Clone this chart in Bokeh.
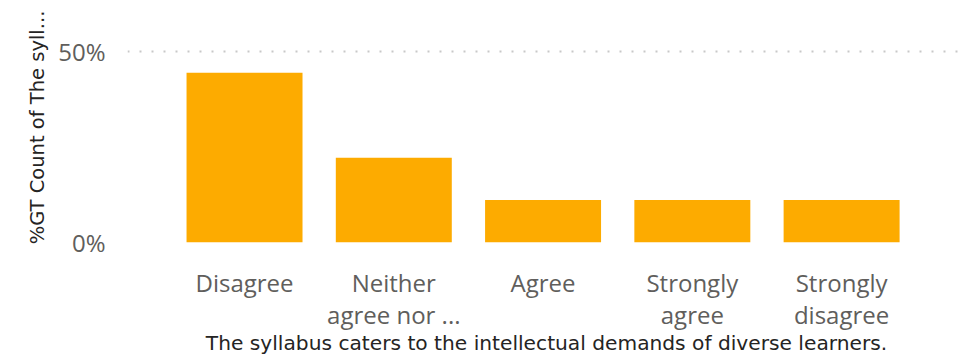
from bokeh.plotting import figure
from bokeh.models import Range1d, FixedTicker, ColumnDataSource
from bokeh.embed import file_html
from bokeh.resources import INLINE

categories = ["Disagree", "Neither agree nor ...", "Agree", "Strongly agree", "Strongly disagree"]
tick_text = ["Disagree", "Neither\nagree nor ...", "Agree", "Strongly\nagree", "Strongly\ndisagree"]
values = [0.444, 0.222, 0.111, 0.111, 0.111]
y_ticks = [0, 0.5]
y_tick_text = ["0%", "50%"]
x_title = "The syllabus caters to the intellectual demands of diverse learners."
y_title = "%GT Count of The syll..."

xs = list(range(len(categories)))
src = ColumnDataSource(dict(x=xs, top=values))

p = figure(width=977, height=357, output_backend="svg", toolbar_location=None,
           x_range=Range1d(-0.784, len(categories) - 1 + 0.83),
           y_range=Range1d(0, 0.6016),
           min_border_left=127, min_border_right=12, min_border_top=12, min_border_bottom=114)
p.outline_line_color = None
p.background_fill_color = "white"
p.border_fill_color = "white"

p.vbar(x="x", top="top", width=0.777, bottom=0, source=src,
       fill_color="#FDAB00", line_color=None)

# x axis
p.xaxis.ticker = FixedTicker(ticks=xs)
p.xaxis.major_label_overrides = {i: t for i, t in zip(xs, tick_text)}
p.xaxis.axis_line_color = None
p.xaxis.major_tick_line_color = None
p.xaxis.minor_tick_line_color = None
p.xaxis.major_label_text_font = "Open Sans"
p.xaxis.major_label_text_font_size = "24px"
p.xaxis.major_label_text_color = "#605E5C"
p.xaxis.major_label_text_line_height = 0.97
p.xaxis.major_label_standoff = 17
p.xaxis.axis_label = x_title
p.xaxis.axis_label_text_font = "DejaVu Sans"
p.xaxis.axis_label_text_font_style = "normal"
p.xaxis.axis_label_text_font_size = "20.2px"
p.xaxis.axis_label_text_color = "#252423"
p.xaxis.axis_label_standoff = -3

# y axis
p.yaxis.ticker = FixedTicker(ticks=y_ticks)
p.yaxis.major_label_overrides = {t: s for t, s in zip(y_ticks, y_tick_text)}
p.yaxis.axis_line_color = None
p.yaxis.major_tick_line_color = None
p.yaxis.minor_tick_line_color = None
p.yaxis.major_label_text_font = "Open Sans"
p.yaxis.major_label_text_font_size = "24px"
p.yaxis.major_label_text_color = "#605E5C"
p.yaxis.major_label_standoff = 16
p.yaxis.axis_label = y_title
p.yaxis.axis_label_text_font = "DejaVu Sans"
p.yaxis.axis_label_text_font_style = "normal"
p.yaxis.axis_label_text_font_size = "19.5px"
p.yaxis.axis_label_text_color = "#252423"
p.yaxis.axis_label_standoff = 6

p.xgrid.grid_line_color = None
p.ygrid.ticker = FixedTicker(ticks=y_ticks)
p.ygrid.grid_line_color = "#C8C8C8"
p.ygrid.grid_line_width = 2
p.ygrid.grid_line_dash = "2 10"

open("out.html", "w").write(file_html(p, INLINE))
